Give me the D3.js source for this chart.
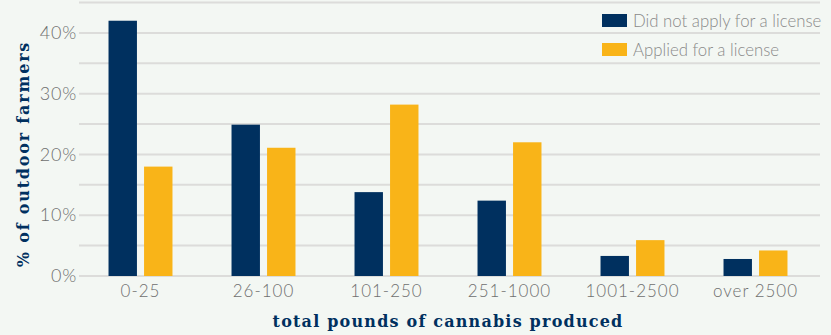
<!DOCTYPE html>
<html>
<head>
<meta charset="utf-8">
<script src="https://cdn.jsdelivr.net/npm/d3@7"></script>
<style>
  html, body { margin: 0; padding: 0; background: #f3f7f3; }
  svg { display: block; }
</style>
</head>
<body>
<svg id="chart" width="831" height="335"></svg>
<script>
const categories = ["0-25", "26-100", "101-250", "251-1000", "1001-2500", "over 2500"];
const seriesNames = ["Did not apply for a license", "Applied for a license"];
const notApplied = [42.0, 24.9, 13.8, 12.4, 3.3, 2.8];
const applied = [18.0, 21.1, 28.2, 22.0, 5.9, 4.2];
const yTicks = [0, 10, 20, 30, 40];
const gridTicks = [0, 5, 10, 15, 20, 25, 30, 35, 40, 45];

const colors = ["#00305f", "#f9b418"];

const svg = d3.select("#chart");
const plotLeft = 79, plotRight = 817, plotTop = 2, plotBottom = 276;

const x0 = d3.scaleBand().domain(categories).range([plotLeft, plotRight])
  .paddingInner(0.48).paddingOuter(0.24);
const x1 = d3.scaleBand().domain([0, 1]).range([0, x0.bandwidth()])
  .paddingInner(0.2).paddingOuter(0);
const y = d3.scaleLinear().domain([0, 45]).range([plotBottom, plotTop + 0.5]);

// gridlines
svg.append("g").selectAll("line").data(gridTicks).join("line")
  .attr("x1", plotLeft).attr("x2", 820)
  .attr("y1", d => y(d)).attr("y2", d => y(d))
  .attr("stroke", "#dcdcda").attr("stroke-width", 2);

// bars
const rows = categories.map((c, i) => ({ cat: c, vals: [notApplied[i], applied[i]] }));
svg.append("g").selectAll("g").data(rows).join("g")
  .attr("transform", d => `translate(${x0(d.cat)},0)`)
  .selectAll("rect").data(d => d.vals.map((v, k) => ({ k, v }))).join("rect")
  .attr("x", d => x1(d.k))
  .attr("width", x1.bandwidth())
  .attr("y", d => y(d.v))
  .attr("height", d => y(0) - y(d.v))
  .attr("fill", d => colors[d.k]);

// y axis labels
const yAxis = svg.append("g").attr("transform", `translate(${plotLeft - 2},0)`)
  .call(d3.axisLeft(y).tickValues(yTicks).tickSize(0).tickPadding(0).tickFormat(d => d + "%"));
yAxis.select(".domain").remove();
yAxis.selectAll("text")
  .attr("fill", "#6f6f6f").style("font-family", "Lato, 'Open Sans', sans-serif")
  .style("font-size", "18px").style("font-weight", "300").style("letter-spacing", "0.8px");

// x axis labels
const xAxis = svg.append("g").attr("transform", `translate(0,${plotBottom})`)
  .call(d3.axisBottom(x0).tickSize(0).tickPadding(9));
xAxis.select(".domain").remove();
xAxis.selectAll("text")
  .attr("fill", "#6f6f6f").style("font-family", "Lato, 'Open Sans', sans-serif")
  .style("font-size", "17px").style("font-weight", "300").style("letter-spacing", "1px");

// axis titles
svg.append("text")
  .attr("x", (plotLeft + plotRight) / 2).attr("y", 327)
  .attr("text-anchor", "middle")
  .attr("fill", "#00305f")
  .style("font-family", "'DejaVu Serif', serif").style("font-size", "16px")
  .style("font-weight", "bold").style("letter-spacing", "1.2px")
  .text("total pounds of cannabis produced");

svg.append("text")
  .attr("transform", "translate(29,154) rotate(-90)")
  .attr("text-anchor", "middle")
  .attr("fill", "#00305f")
  .style("font-family", "'DejaVu Serif', serif").style("font-size", "16px")
  .style("font-weight", "bold").style("letter-spacing", "1.8px")
  .text("% of outdoor farmers");

// legend
const legend = svg.append("g").selectAll("g").data(seriesNames).join("g")
  .attr("transform", (d, i) => `translate(602,${14 + i * 29})`);
legend.append("rect").attr("width", 25).attr("height", 13)
  .attr("fill", (d, i) => colors[i]);
legend.append("text").attr("x", 31).attr("y", 12.5)
  .attr("fill", "#8a8a8a").style("font-family", "Lato, 'Open Sans', sans-serif")
  .style("font-size", "16.8px").style("font-weight", "300")
  .text(d => d);
</script>
</body>
</html>
